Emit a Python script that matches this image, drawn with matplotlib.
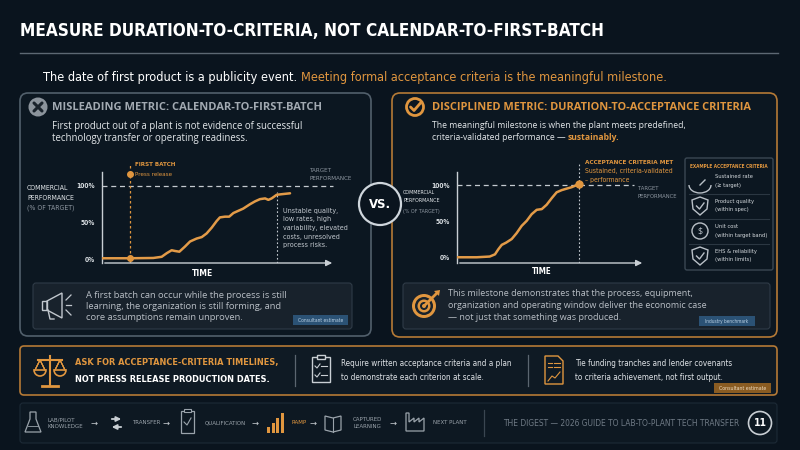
import numpy as np
import matplotlib.pyplot as plt
from matplotlib.patches import Circle, FancyBboxPatch, Rectangle, Polygon, Arc, Wedge

# colores
BG = '#0a141e'
ORANGE = '#e0963f'
CURVE = '#e39b48'
GRAY = '#8d96a0'
LIGHT = '#e3e7ea'
BLUE_TAG = '#2b5275'
BROWN_TAG = '#8a5c22'

NARROW = ['DejaVu Sans']
BODY = ['Open Sans', 'DejaVu Sans']

# datos de las curvas (tiempo 0-100, rendimiento en % del objetivo)
left_time = [0, 12, 22, 25.6, 27.8, 29.9, 31.3, 33.2, 35.6, 37.8, 40.6, 42.8, 44.9,
             47.1, 49.2, 50.6, 52.8, 54.6, 56.4, 58.5, 60.6, 63.5, 65.7, 67.8,
             70, 71.4, 72.8, 75, 77.8, 80.7]
left_perf = [1, 1, 1.4, 3, 8, 12, 11, 10, 17, 24, 28, 30, 35, 43, 52, 57, 58, 58,
             63, 66, 69, 75, 79, 82, 83, 81, 83, 88, 89, 90]
first_batch_t = 12
unstable_t = 75

right_time = [0, 10.5, 17.4, 20.2, 22, 23.8, 26.1, 29.1, 31.7, 34.4, 37.1, 39.7,
              42.4, 45.1, 47.7, 50.4, 53, 55.7, 58.3, 61, 63.7, 65]
right_perf = [1, 1, 2, 5, 12, 18, 21, 26, 34, 44, 51, 60, 66, 67, 73, 82, 90, 93,
              95, 97, 100, 101]
accept_t = 65

y_ticks = [0, 50, 100]
y_tick_labels = ['0%', '50%', '100%']

criteria = [('Sustained rate', '(≥ target)'),
            ('Product quality', '(within spec)'),
            ('Unit cost', '(within target band)'),
            ('EHS & reliability', '(within limits)')]

nav_items = ['LAB/PILOT\nKNOWLEDGE', 'TRANSFER', 'QUALIFICATION', 'RAMP',
             'CAPTURED\nLEARNING', 'NEXT PLANT']

fig = plt.figure(figsize=(8, 4.5), dpi=100)
fig.patch.set_facecolor(BG)
ax = fig.add_axes([0, 0, 1, 1])
ax.set_xlim(0, 800)
ax.set_ylim(450, 0)
ax.axis('off')
renderer = fig.canvas.get_renderer()


def T(x, y, s, size, color=LIGHT, weight='normal', ha='left', fam=BODY, va='center', **kw):
    if fam is NARROW:
        kw.setdefault('fontstretch', 'condensed')
    return ax.text(x, y, s, fontsize=size, color=color, fontweight=weight,
                   ha=ha, va=va, family=fam, **kw)


def fit(texts, width):
    # ajusta el tamaño para que el primer texto ocupe "width" pixeles
    bb = texts[0].get_window_extent(renderer)
    size = texts[0].get_fontsize() * width / bb.width
    for t in texts:
        t.set_fontsize(size)
    return size


def right_end(t):
    bb = t.get_window_extent(renderer)
    return ax.transData.inverted().transform((bb.x1, 0))[0]


def box(x, y, w, h, fc, ec, lw=1.0, r=6, z=1):
    p = FancyBboxPatch((x, y), w, h, boxstyle=f'round,pad=0,rounding_size={r}',
                       fc=fc, ec=ec, lw=lw, zorder=z)
    ax.add_patch(p)


# titulo
tt = T(20, 31, 'MEASURE DURATION-TO-CRITERIA, NOT CALENDAR-TO-FIRST-BATCH', 12,
       color='white', weight='bold', fam=NARROW)
fit([tt], 583)
ax.plot([20, 778], [53, 53], color='#5d6873', lw=1)
t1 = T(43, 77, 'The date of first product is a publicity event. ', 9, color='white', fam=NARROW)
t_all = T(43, 77, 'The date of first product is a publicity event. Meeting formal acceptance '
          'criteria is the meaningful milestone.', 9, color='none', fam=NARROW)
fit([t_all, t1], 625)
t_all.remove()
T(right_end(t1), 77, 'Meeting formal acceptance criteria is the meaningful milestone.',
  t1.get_fontsize(), color=ORANGE, fam=NARROW)

# paneles
box(20, 93, 351, 243, '#0c1721', '#52606c', lw=1.2, r=8)
box(392, 93, 385, 244, '#0c1721', '#b57a36', lw=1.2, r=8)

# VS
ax.add_patch(Circle((380, 204), 21, fc=BG, ec='#cfd6dc', lw=1.6, zorder=5))
vs = T(380, 205, 'VS.', 12, color='white', weight='bold', ha='center', fam=NARROW, zorder=6)
fit([vs], 22)

# ---- panel izquierdo
ax.add_patch(Circle((38, 107), 9.5, fc='#8c949c', ec='none'))
ax.plot([34, 42], [103, 111], color='#1a232c', lw=2.2, solid_capstyle='round')
ax.plot([34, 42], [111, 103], color='#1a232c', lw=2.2, solid_capstyle='round')
h1 = T(52, 107, 'MISLEADING METRIC: CALENDAR-TO-FIRST-BATCH', 8, color='#a2aab2', weight='bold')
fit([h1], 271)
b1 = T(52, 126, 'First product out of a plant is not evidence of successful', 7.2)
b2 = T(52, 138, 'technology transfer or operating readiness.', 7.2)
fit([b1, b2], 251)

lab = [T(27, 188, 'COMMERCIAL', 5.6, color=LIGHT, fam=NARROW),
       T(27, 198, 'PERFORMANCE', 5.6, color=LIGHT, fam=NARROW),
       T(27, 208, '(% OF TARGET)', 5.6, color=GRAY, fam=NARROW)]
fit([lab[1]] + lab, 46)
fb = [T(135, 165, 'FIRST BATCH', 6, color=ORANGE, weight='bold', fam=NARROW),
      T(135, 174, 'Press release', 6, color=ORANGE, fam=NARROW)]
fit(fb, 42)
tp = [T(310, 170, 'TARGET', 5.3, color=GRAY, fam=NARROW),
      T(310, 179, 'PERFORMANCE', 5.3, color=GRAY, fam=NARROW)]
fit([tp[1], tp[0]], 43)
un = [T(283, 211 + i * 8.5, line, 5.5, color='#c4cad0', fam=NARROW)
      for i, line in enumerate(['Unstable quality,', 'low rates, high', 'variability, elevated',
                                'costs, unresolved', 'process risks.'])]
fit([un[2]] + un, 64)
tm = T(202, 273, 'TIME', 6.8, color='white', weight='bold', ha='center', fam=NARROW)
fit([tm], 21)

# ---- panel derecho
ax.add_patch(Circle((415, 107), 8.5, fc='none', ec=ORANGE, lw=2))
ax.plot([410.5, 414, 420.5], [107, 110.5, 103], color=ORANGE, lw=2, solid_capstyle='round')
h2 = T(432, 107, 'DISCIPLINED METRIC: DURATION-TO-ACCEPTANCE CRITERIA', 8, color=ORANGE, weight='bold')
fit([h2], 320)
r1 = T(432, 125, 'The meaningful milestone is when the plant meets predefined,', 7.2)
r2 = T(432, 138, 'criteria-validated performance — ', 7.2)
fit([r1, r2], 255)
T(right_end(r2), 138, 'sustainably.', r1.get_fontsize(), color=ORANGE, weight='bold')

lab2 = [T(403, 192, 'COMMERCIAL', 5.3, color=LIGHT, fam=NARROW),
        T(403, 201, 'PERFORMANCE', 5.3, color=LIGHT, fam=NARROW),
        T(403, 211, '(% OF TARGET)', 5.3, color=GRAY, fam=NARROW)]
fit([lab2[1]] + lab2, 37)
ac = [T(585, 162, 'ACCEPTANCE CRITERIA MET', 6, color=ORANGE, weight='bold', fam=NARROW),
      T(585, 171, 'Sustained, criteria-validated', 5.6, color=ORANGE, fam=NARROW),
      T(585, 180, '– performance', 5.6, color=ORANGE, fam=NARROW)]
fit([ac[0]], 90)
fit(ac[1:], 88)
tp2 = [T(638, 188, 'TARGET', 5.3, color=GRAY, fam=NARROW),
       T(638, 197, 'PERFORMANCE', 5.3, color=GRAY, fam=NARROW)]
fit([tp2[1], tp2[0]], 40)
tm2 = T(542, 272, 'TIME', 6.5, color='white', weight='bold', ha='center', fam=NARROW)
fit([tm2], 20)

# caja de criterios
box(685, 158, 88, 112, '#0c1721', '#3a4753', lw=1, r=2)
ct = T(729, 166, 'EXAMPLE ACCEPTANCE CRITERIA', 4.3, color=ORANGE, weight='bold', ha='center', fam=NARROW)
fit([ct], 78)
crit_texts = []
for k, (a, b) in enumerate(criteria):
    cy = 181 + k * 25
    if k > 0:
        ax.plot([689, 769], [cy - 12.5, cy - 12.5], color='#2b3742', lw=0.8)
    crit_texts.append(T(715, cy - 4, a, 5.3, color='#d5dade', fam=NARROW))
    crit_texts.append(T(715, cy + 4, b, 5.3, color='#d5dade', fam=NARROW))
    ic = '#b9c0c7'
    if k == 0:
        ax.add_patch(Arc((700, cy + 4), 22, 16, theta1=0, theta2=180, color=ic, lw=1))
        ax.plot([700, 705], [cy + 4, cy - 1], color=ic, lw=1)
    elif k == 2:
        ax.add_patch(Circle((700, cy), 8, fc='none', ec=ic, lw=1))
        T(700, cy, '$', 6.5, color=ic, ha='center')
    else:
        ax.add_patch(Polygon([[700, cy - 9], [708, cy - 6], [707, cy + 3], [700, cy + 9],
                              [693, cy + 3], [692, cy - 6]], closed=True, fc='none', ec=ic, lw=1))
        ax.plot([696.5, 699.5, 704], [cy, cy + 3, cy - 3], color=ic, lw=1)
fit([crit_texts[5]] + crit_texts, 52)


# ---- graficos
def make_chart(px0, px1, y0pct, pxper, times, perfs):
    top, bottom = 160, 263
    a = fig.add_axes([px0 / 800, 1 - bottom / 450, (px1 - px0) / 800, (bottom - top) / 450])
    a.set_facecolor('none')
    a.set_xlim(0, 100)
    lo = (y0pct - bottom) / pxper
    a.set_ylim(lo, (y0pct - top) / pxper)
    for s in a.spines.values():
        s.set_visible(False)
    a.spines['left'].set_visible(True)
    a.spines['left'].set_color('#c9cfd4')
    a.spines['left'].set_linewidth(1)
    a.spines['left'].set_bounds(lo, (y0pct - 172) / pxper)
    a.set_xticks([])
    a.set_yticks(y_ticks)
    a.set_yticklabels(y_tick_labels, fontsize=4.8, color='#d9dee2', fontweight='bold',
                      family=NARROW, fontstretch='condensed')
    a.tick_params(axis='y', length=0, pad=5)
    a.annotate('', xy=(1.0, 0), xytext=(0, 0), xycoords='axes fraction',
               arrowprops=dict(arrowstyle='-|>', color='#c9cfd4', lw=1, mutation_scale=9))
    a.plot(times, perfs, color=CURVE, lw=1.8, solid_joinstyle='round', solid_capstyle='round', zorder=4)
    return a


left = make_chart(102, 335, 259, 0.73, left_time, left_perf)
left.plot([0, 99], [100, 100], color='#c4cad0', lw=0.9, ls=(0, (4, 3)))
left.axvline(first_batch_t, ymax=0.97, color=ORANGE, lw=0.9, ls=(0, (2, 2)))
left.plot([first_batch_t, first_batch_t], [left_perf[1], 116], 'o', color=ORANGE, ms=4, zorder=5)
left.plot([unstable_t, unstable_t], [left.get_ylim()[0], 92], color='#c4cad0', lw=0.8, ls=(0, (1.5, 2)))

right = make_chart(457, 645, 258, 0.73, right_time, right_perf)
right.plot([0, 94], [100, 100], color='#c4cad0', lw=0.9, ls=(0, (4, 3)))
right.axvline(accept_t, ymax=0.98, color='#c4cad0', lw=0.8, ls=(0, (1.5, 2)))
right.plot([accept_t], [right_perf[-1]], 'o', color=ORANGE, ms=5, zorder=5)

# ---- recuadros inferiores de los paneles
box(33, 283, 319, 46, '#18222c', '#2f3b47', lw=0.8, r=3)
mc = '#c1c7cd'
ax.add_patch(Polygon([[47, 301], [62, 293], [62, 318], [47, 310]], closed=True, fc='none', ec=mc, lw=1))
ax.add_patch(Rectangle((42, 301), 5, 9, fc='none', ec=mc, lw=1))
ax.plot([48, 50, 54], [310, 319, 319], color=mc, lw=1)
for y1, y2 in ((300, 295), (305, 305), (310, 315)):
    ax.plot([66, 71], [y1, y2], color=mc, lw=0.9)
cl = [T(86, 295 + i * 11.5, line, 7.2, color='#b8bec5')
      for i, line in enumerate(['A first batch can occur while the process is still',
                                'learning, the organization is still forming, and',
                                'core assumptions remain unproven.'])]
fit(cl, 204)
ax.add_patch(Rectangle((293, 315), 55, 10, fc=BLUE_TAG, ec='none'))
tg = T(320.5, 320, 'Consultant estimate', 4.3, color='#b9d0e4', ha='center', fam=NARROW)
fit([tg], 46)

box(403, 283, 367, 46, '#18222c', '#2f3b47', lw=0.8, r=3)
for r, fc in ((12, ORANGE), (9, '#18222c'), (6.5, ORANGE), (4, '#18222c'), (2, ORANGE)):
    ax.add_patch(Circle((424, 306), r, fc=fc, ec='none'))
ax.plot([425, 437], [305, 293], color=ORANGE, lw=2)
ax.add_patch(Polygon([[434, 291], [440, 290], [439, 296]], closed=True, fc=ORANGE, ec='none'))
cr = [T(448, 294 + i * 11.5, line, 7.2, color='#b8bec5')
      for i, line in enumerate(['This milestone demonstrates that the process, equipment,',
                                'organization and operating window deliver the economic case',
                                '— not just that something was produced.'])]
fit(cr, 247)
ax.add_patch(Rectangle((699, 316), 56, 10, fc=BLUE_TAG, ec='none'))
tg2 = T(727, 321, 'Industry benchmark', 4.3, color='#b9d0e4', ha='center', fam=NARROW)
fit([tg2], 44)

# ---- caja de accion
box(20, 346, 757, 49, '#0f1a24', '#b57a36', lw=1.2, r=4)
sc = ORANGE
ax.plot([50, 50], [356, 386], color=sc, lw=1.5)
ax.plot([38, 62], [360, 360], color=sc, lw=1.5)
ax.plot([42, 58], [386, 386], color=sc, lw=2)
ax.add_patch(Wedge((40, 370), 6, 0, 180, fc='none', ec=sc, lw=1.2))
ax.add_patch(Wedge((60, 370), 6, 0, 180, fc='none', ec=sc, lw=1.2))
ax.plot([40, 35, 40, 45, 40], [360, 370, 360, 370, 360], color=sc, lw=0.8)
ax.plot([60, 55, 60, 65, 60], [360, 370, 360, 370, 360], color=sc, lw=0.8)
ask = [T(75, 363, 'ASK FOR ACCEPTANCE-CRITERIA TIMELINES,', 8.6, color=ORANGE, weight='bold', fam=NARROW),
       T(75, 380, 'NOT PRESS RELEASE PRODUCTION DATES.', 8.6, color='white', weight='bold', fam=NARROW)]
fit(ask, 203)
ax.plot([295, 295], [355, 386], color='#5b6670', lw=0.9)
ic = '#c9cfd4'
ax.add_patch(Rectangle((312, 357), 18, 25, fc='none', ec=ic, lw=1))
ax.add_patch(Rectangle((317, 355), 8, 4, fc=BG, ec=ic, lw=1))
ax.plot([315, 317, 320], [366, 368, 364], color=ic, lw=0.8)
ax.plot([321, 327], [366, 366], color=ic, lw=0.8)
ax.plot([315, 317, 320], [375, 377, 373], color=ic, lw=0.8)
ax.plot([321, 327], [375, 375], color=ic, lw=0.8)
rq = [T(341, 363, 'Require written acceptance criteria and a plan', 6.8, color='#dfe3e7', fam=NARROW),
      T(341, 377, 'to demonstrate each criterion at scale.', 6.8, color='#dfe3e7', fam=NARROW)]
fit(rq, 172)
ax.plot([528, 528], [355, 386], color='#5b6670', lw=0.9)
ax.add_patch(Polygon([[545, 356], [558, 356], [563, 361], [563, 384], [545, 384]],
                     closed=True, fc='none', ec=ORANGE, lw=1))
ax.plot([548, 552], [363, 363], color=ORANGE, lw=0.8)
ax.plot([554, 560], [363, 363], color=ORANGE, lw=0.8)
ax.plot([548, 552], [367, 367], color=ORANGE, lw=0.8)
ax.plot([554, 560], [367, 367], color=ORANGE, lw=0.8)
ax.plot([548, 552, 555, 560], [381, 376, 378, 372], color=ORANGE, lw=0.8)
tf = [T(575, 363, 'Tie funding tranches and lender covenants', 6.8, color='#dfe3e7', fam=NARROW),
      T(575, 377, 'to criteria achievement, not first output.', 6.8, color='#dfe3e7', fam=NARROW)]
fit(tf, 160)
ax.add_patch(Rectangle((714, 383), 57, 10, fc=BROWN_TAG, ec='none'))
tg3 = T(742.5, 388, 'Consultant estimate', 4.3, color='#f0dcc0', ha='center', fam=NARROW)
fit([tg3], 48)

# ---- barra de navegacion
box(20, 403, 757, 40, '#0d1822', '#1d2a36', lw=0.8, r=3)
nc = '#9aa3ab'
ny = 423
# matraz
ax.add_patch(Polygon([[30, 412], [36, 412], [36, 419], [41, 432], [25, 432], [30, 419]],
                     closed=True, fc='none', ec=nc, lw=0.9))
ax.plot([28, 38], [426, 426], color=nc, lw=0.6)
# flechas de transferencia
ax.annotate('', xy=(124, 419), xytext=(109, 419),
            arrowprops=dict(arrowstyle='-|>', color=ic, lw=1.3, mutation_scale=7))
ax.annotate('', xy=(109, 427), xytext=(124, 427),
            arrowprops=dict(arrowstyle='-|>', color=ic, lw=1.3, mutation_scale=7))
# portapapeles
ax.add_patch(Rectangle((181, 411), 13, 22, fc='none', ec=nc, lw=0.9))
ax.add_patch(Rectangle((184, 409), 7, 3, fc=BG, ec=nc, lw=0.8))
ax.plot([184, 187, 191], [422, 425, 418], color=nc, lw=0.8)
# barras
for i, h in enumerate([6, 10, 15, 20]):
    ax.add_patch(Rectangle((267 + i * 4.5, 433 - h), 3, h, fc=ORANGE, ec='none'))
# libro
ax.add_patch(Polygon([[325, 416], [333, 418], [341, 416], [341, 430], [333, 432], [325, 430]],
                     closed=True, fc='none', ec=nc, lw=0.9))
ax.plot([333, 333], [418, 432], color=nc, lw=0.8)
# fabrica
ax.add_patch(Polygon([[406, 431], [406, 413], [409, 413], [409, 422], [414, 418], [414, 422],
                      [419, 418], [419, 422], [424, 418], [424, 431]],
                     closed=True, fc='none', ec=nc, lw=0.9))

nav_x = [47, 132, 205, 291, 353, 433]
nav_colors = [nc, nc, nc, ORANGE, nc, nc]
nav_texts = [T(xx, ny, lab, 5.2, color=c, fam=NARROW, linespacing=1.3)
             for xx, lab, c in zip(nav_x, nav_items, nav_colors)]
fit([nav_texts[2]] + nav_texts, 42)
for xx in [94, 166, 255, 313, 393]:
    T(xx, ny, '→', 6, color=ic, ha='center', fam=['DejaVu Sans'])
ax.plot([484, 484], [410, 436], color='#3a4651', lw=0.9)
dg = T(503, ny, 'THE DIGEST — 2026 GUIDE TO LAB-TO-PLANT TECH TRANSFER', 7, color='#6f7a85', fam=NARROW)
fit([dg], 237)
ax.add_patch(Circle((760, ny), 11.5, fc='none', ec='#c9cfd4', lw=1.2))
T(760, ny, '11', 7.5, color='white', weight='bold', ha='center', fam=NARROW)

fig.savefig('out.png', dpi=100, facecolor=BG)
